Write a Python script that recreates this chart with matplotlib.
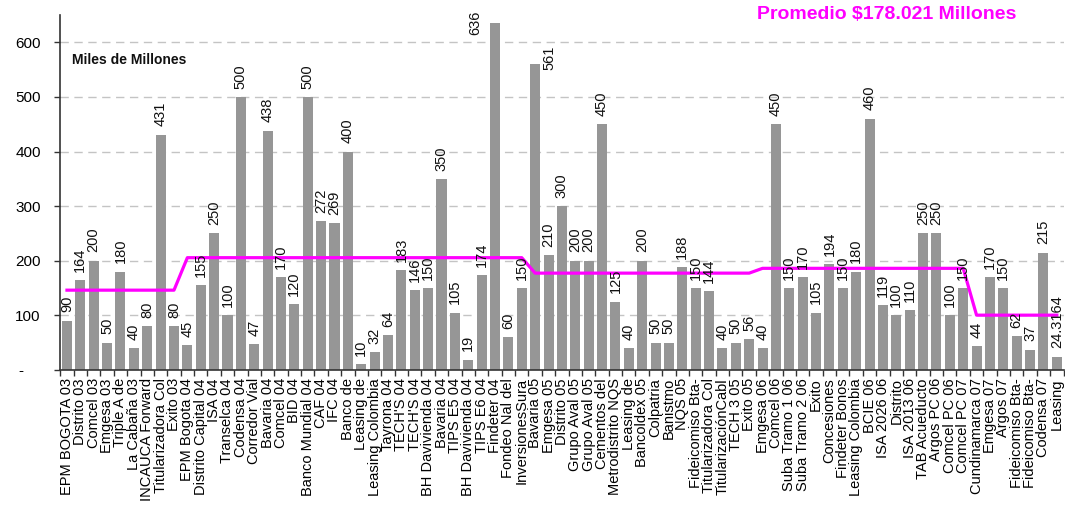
import matplotlib
matplotlib.use("Agg")
import matplotlib.pyplot as plt
import numpy as np

plt.rcParams["font.family"] = ["Liberation Sans", "DejaVu Sans"]

# Emisiones (miles de millones) por emisor, en orden cronológico
emisores = [
    "EPM BOGOTA 03", "Distrito 03", "Comcel 03", "Emgesa 03", "Triple A de",
    "La Cabaña 03", "INCAUCA Forward", "Titularizadora Col", "Exito 03",
    "EPM Bogota 04", "Distrito Capital 04", "ISA 04", "Transelca 04", "Codensa 04",
    "Corredor Vial", "Bavaria 04", "Comcel 04", "BID 04", "Banco Mundial 04",
    "CAF 04", "IFC 04", "Banco de", "Leasing de", "Leasing Colombia", "Tayrona 04",
    "TECH'S 04", "TECH'S 04", "BH Davivienda 04", "Bavaria 04", "TIPS E5 04",
    "BH Davivienda 04", "TIPS E6 04", "Findeter 04", "Fondeo Nal del",
    "InversionesSura", "Bavaria 05", "Emgesa 05", "Distrito 05", "Grupo Aval 05",
    "Grupo Aval 05", "Cementos del", "Metrodistrito NQS", "Leasing de",
    "Bancoldex 05", "Colpatria", "Banistmo", "NQS 05", "Fideicomiso Bta-",
    "Titularizadora Col", "TitularizaciónCabl", "TECH 3 05", "Exito 05",
    "Emgesa 06", "Comcel 06", "Suba Tramo 1 06", "Suba Tramo 2 06", "Exito",
    "Concesiones", "Findeter Bonos", "Leasing Colombia", "BCIE 06", "ISA 2026 06",
    "Distrito", "ISA 2013 06", "TAB Acueducto", "Argos PC 06", "Comcel PC 06",
    "Comcel PC 07", "Cundinamarca 07", "Emgesa 07", "Argos 07", "Fideicomiso Bta-",
    "Fideicomiso Bta-", "Codensa 07", "Leasing",
]

montos = [
    90, 164, 200, 50, 180, 40, 80, 431, 80,
    45, 155, 250, 100, 500, 47, 438, 170, 120, 500, 272, 269, 400, 10, 32, 64,
    183, 146, 150, 350, 105, 19, 174, 636, 60, 150,
    561, 210, 300, 200, 200, 450, 125, 40, 200, 50, 50, 188, 150, 144, 40, 50, 56,
    40, 450, 150, 170, 105, 194, 150, 180, 460, 119, 100, 110, 250, 250, 100, 150,
    44, 170, 150, 62, 37, 215, 24.3164,
]

etiquetas = [
    "90", "164", "200", "50", "180", "40", "80", "431", "80",
    "45", "155", "250", "100", "500", "47", "438", "170", "120", "500", "272",
    "269", "400", "10", "32", "64", "183", "146", "150", "350", "105", "19",
    "174", "636", "60", "150",
    "561", "210", "300", "200", "200", "450", "125", "40", "200", "50", "50",
    "188", "150", "144", "40", "50", "56",
    "40", "450", "150", "170", "105", "194", "150", "180", "460", "119", "100",
    "110", "250", "250", "100", "150",
    "44", "170", "150", "62", "37", "215", "24.3164",
]

# Número de emisiones en cada periodo y promedio del periodo
emisiones_por_periodo = [9, 26, 17, 16, 7]
promedio_periodo = [146.1, 205.6, 177.3, 186.1, 100.3]

promedio_total = "Promedio $178.021 Millones"
y_ticks = [0, 100, 200, 300, 400, 500, 600]
y_tick_labels = ["-    ", "100", "200", "300", "400", "500", "600"]

fig = plt.figure(figsize=(10.65, 5.21), dpi=100)
ax = fig.add_axes([0.0566, 0.290, 0.942, 0.681])

x = np.arange(len(montos))
ax.bar(x, montos, width=0.75, color="#969696", zorder=2)

# Las etiquetas de las barras más altas se apartan a un lado para no salirse
desplazadas = {32: (-14, 0), 35: (10, 4)}
for i, (xi, v, t) in enumerate(zip(x, montos, etiquetas)):
    if i in desplazadas:
        off, va = desplazadas[i], "center"
    else:
        off, va = (0, 6), "bottom"
    ax.annotate(t, (xi, v), xytext=off, textcoords="offset points",
                rotation=90, ha="center", va=va, fontsize=10.5,
                color="#111111", zorder=4, annotation_clip=False)

# Línea de promedio por periodo (escalonada sobre los centros de las barras)
linea = np.repeat(promedio_periodo, emisiones_por_periodo)
ax.plot(x, linea, color="#FF00FF", lw=2.3, zorder=3)

ax.set_xlim(-0.5, len(montos) - 0.5)
ax.set_ylim(0, 650)
ax.set_yticks(y_ticks)
ax.set_yticklabels(y_tick_labels, fontsize=11)
ax.set_xticks(x)
ax.set_xticklabels(emisores, rotation=90, fontsize=10.5, va="top", ha="center")
ax.set_xticks(np.arange(-0.5, len(montos)), minor=True)
ax.tick_params(axis="x", which="major", length=0, pad=6)
ax.tick_params(axis="x", which="minor", length=4, width=1, color="#333333", direction="out")
ax.tick_params(axis="y", length=4, width=1, color="#333333", pad=10)

for yv in y_ticks[1:]:
    ax.axhline(yv, color="#c4c4c4", lw=1, ls=(0, (6, 4)), zorder=1)

for s in ("top", "right"):
    ax.spines[s].set_visible(False)
for s in ("left", "bottom"):
    ax.spines[s].set_color("#333333")
    ax.spines[s].set_linewidth(1.2)

ax.text(0.012, 0.873, "Miles de Millones", transform=ax.transAxes,
        fontsize=10, fontweight="bold", ha="left", va="center", color="#111111")

fig.text(0.833, 0.972, promedio_total, color="#FF00FF", fontsize=14,
         fontweight="bold", ha="center", va="center")

fig.savefig("out.png", dpi=100)
